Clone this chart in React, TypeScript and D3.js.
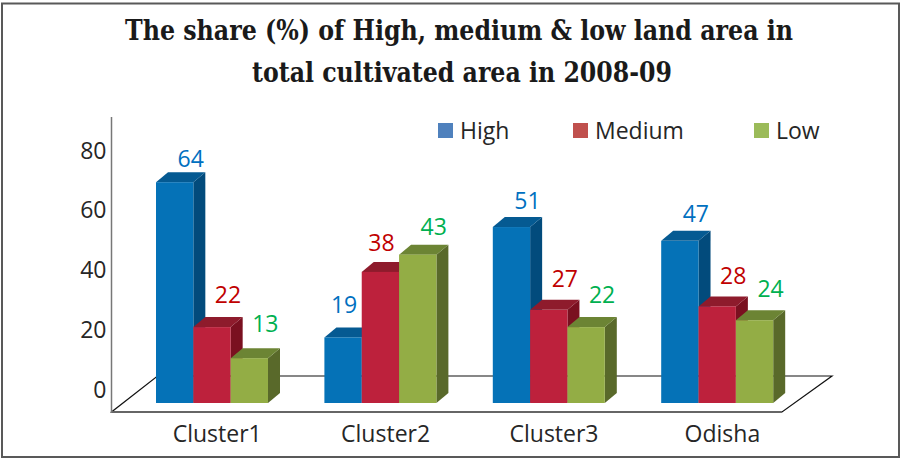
import React from 'react';
import * as d3 from 'd3';

const categories = ['Cluster1', 'Cluster2', 'Cluster3', 'Odisha'];
const seriesNames = ['High', 'Medium', 'Low'];
const high = [64, 19, 51, 47];
const medium = [22, 38, 27, 28];
const low = [13, 43, 22, 24];
const yTicks = [0, 20, 40, 60, 80];
const titleLines = ['The share (%) of High, medium & low land area in', 'total cultivated area in 2008-09'];

const width = 902;
const height = 460;

// face colours for the 3d bars: front, side, top
const barColors = [
  { front: '#0572B7', side: '#024B7C', top: '#055A92' },
  { front: '#BD213C', side: '#7A1020', top: '#8E1B2C' },
  { front: '#93AD45', side: '#59692A', top: '#6C8434' },
];
const legendColors = ['#4F81BD', '#C0504D', '#9BBB59'];
const labelColors = ['#0070C0', '#C00000', '#00B050'];

const App = () => {
  const values = [high, medium, low];

  const floorLeft = 111.5;
  const floorRight = 782;
  const floorFront = 412;
  const floorDepth = { dx: 48, dy: -36 };
  const depth = { dx: 12, dy: -10 };

  const x = d3.scaleBand().domain(categories).range([112, 785.6]);
  const xs = d3.scaleBand().domain(seriesNames).range([0, 112]);
  const groupOffset = 44;

  const yBar = d3.scaleLinear().domain([0, 80]).range([403, 127]);
  const yAxis = d3.scaleLinear().domain([0, 80]).range([389.5, 150.5]);
  const yLabel = d3.scaleLinear().domain([0, 80]).range([374.5, 115.5]);

  const font = '"Open Sans", sans-serif';
  const bw = xs.bandwidth();

  const bars = [];
  const labels = [];
  categories.forEach((c, ci) => {
    seriesNames.forEach((s, si) => {
      const v = values[si][ci];
      const x0 = (x(c) as number) + groupOffset + (xs(s) as number);
      const x1 = x0 + bw;
      const top = yBar(v);
      const bottom = yBar(0);
      const col = barColors[si];
      const side = [[x1, top], [x1 + depth.dx, top + depth.dy], [x1 + depth.dx, bottom + depth.dy], [x1, bottom]];
      const cap = [[x0, top], [x0 + depth.dx, top + depth.dy], [x1 + depth.dx, top + depth.dy], [x1, top]];
      bars.push(
        <g key={c + s}>
          <polygon points={side.join(' ')} fill={col.side} />
          <polygon points={cap.join(' ')} fill={col.top} />
          <rect x={x0} y={top} width={bw} height={bottom - top} fill={col.front} />
        </g>
      );
      // label sits over the back of the bar, unless the next bar would cover it
      const next = si < seriesNames.length - 1 ? values[si + 1][ci] : null;
      const blocked = next !== null && yBar(next) + depth.dy < yLabel(v);
      labels.push(
        <text key={'l' + c + s} x={x0 + bw / 2 + (blocked ? 1 : 16)} y={yLabel(v)} textAnchor="middle"
          fontFamily={font} fontSize={23} fill={labelColors[si]}>{v}</text>
      );
    });
  });

  const floor = [
    [floorLeft, floorFront],
    [floorRight, floorFront],
    [floorRight + floorDepth.dx + 2, floorFront + floorDepth.dy],
    [floorLeft + floorDepth.dx - 2, floorFront + floorDepth.dy],
  ];

  const legendX = [438, 573, 754];

  return (
    <svg width={width} height={height} style={{ position: 'absolute', left: 0, top: 0 }}>
      <rect x={0} y={0} width={width} height={height} fill="white" />
      <rect x={2} y={3.5} width={897} height={453.5} fill="none" stroke="#595959" strokeWidth={2} />

      {titleLines.map((t, i) => (
        <text key={t} x={i === 0 ? 459 : 462} y={i === 0 ? 40 : 82} textAnchor="middle"
          fontFamily='"DejaVu Serif", serif' fontStretch="condensed" fontWeight="bold" fontSize={27} fill="#1a1a1a"
          textLength={i === 0 ? 668 : 420} lengthAdjust="spacingAndGlyphs">{t}</text>
      ))}

      {/* floor */}
      <polygon points={floor.join(' ')} fill="white" stroke="#111" strokeWidth={1.2} />
      <line x1={floorLeft} y1={floorFront} x2={floorRight} y2={floorFront} stroke="#666" strokeWidth={1.8} />

      {/* value axis */}
      <line x1={floorLeft} y1={117} x2={floorLeft} y2={floorFront} stroke="#777" strokeWidth={1.5} />
      {yTicks.map(t => (
        <text key={t} x={106.5} y={yAxis(t) + 8.2} textAnchor="end" fontFamily={font} fontSize={23} fill="#262626">{t}</text>
      ))}

      {bars}
      {labels}

      {categories.map(c => (
        <text key={c} x={(x(c) as number) + x.bandwidth() / 2 + 21} y={442} textAnchor="middle"
          fontFamily={font} fontSize={23} fill="#262626">{c}</text>
      ))}

      {seriesNames.map((s, i) => (
        <g key={s}>
          <rect x={legendX[i]} y={123} width={15} height={15} fill={legendColors[i]} />
          <text x={legendX[i] + 22} y={139} fontFamily={font} fontSize={23} fill="#262626">{s}</text>
        </g>
      ))}
    </svg>
  );
};

export default App;
